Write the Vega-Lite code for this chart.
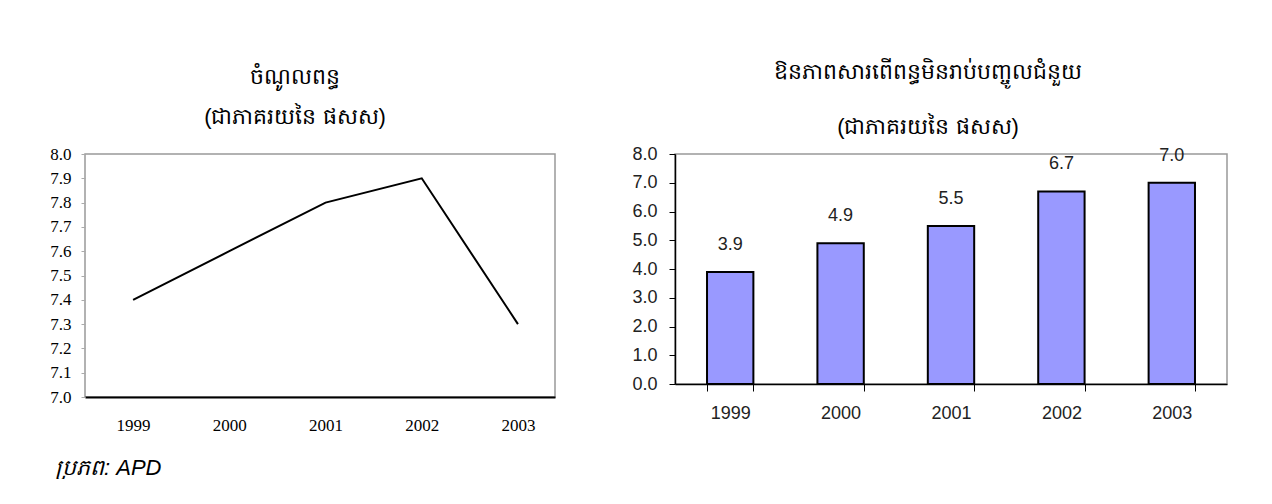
{
  "$schema": "https://vega.github.io/schema/vega-lite/v6.json",
  "padding": {"left": 49, "top": 60, "right": 0, "bottom": 0},
  "background": "white",
  "title": {"text": "ប្រភព: APD", "orient": "bottom", "anchor": "start", "fontStyle": "italic", "fontSize": 22, "font": "Liberation Sans", "fontWeight": "normal", "offset": 24, "dx": 6, "color": "black"},
  "datasets": {
    "revenue": [
      {"year": 1999, "value": 7.4},
      {"year": 2000, "value": 7.6},
      {"year": 2001, "value": 7.8},
      {"year": 2002, "value": 7.9},
      {"year": 2003, "value": 7.3}
    ],
    "deficit": [
      {"year": "1999", "value": 3.9},
      {"year": "2000", "value": 4.9},
      {"year": "2001", "value": 5.5},
      {"year": "2002", "value": 6.7},
      {"year": "2003", "value": 7.0}
    ]
  },
  "spacing": 75,
  "hconcat": [
    {
      "width": 470,
      "height": 243,
      "title": {"text": ["ចំណូលពន្ធ", "(ជាភាគរយនៃ ផសស)"], "fontSize": 22, "lineHeight": 40, "offset": 16, "dx": -25, "anchor": "middle", "fontWeight": "normal", "color": "black"},
      "view": {"stroke": "#999999", "strokeWidth": 1.5},
      "data": {"name": "revenue"},
      "mark": {"type": "line", "color": "black", "strokeWidth": 2},
      "encoding": {
        "x": {
          "field": "year", "type": "quantitative",
          "scale": {"domain": [1998.5, 2003.385], "nice": false, "zero": false},
          "axis": {"values": [1999, 2000, 2001, 2002, 2003], "format": "d", "ticks": false, "grid": false, "domainColor": "black", "domainWidth": 2, "labelFont": "Liberation Serif", "labelFontSize": 17, "labelColor": "black", "labelPadding": 20, "labelFlush": false, "title": null}
        },
        "y": {
          "field": "value", "type": "quantitative",
          "scale": {"domain": [7, 8], "nice": false, "zero": false},
          "axis": {"values": [7.0, 7.1, 7.2, 7.3, 7.4, 7.5, 7.6, 7.7, 7.8, 7.9, 8.0], "format": ".1f", "grid": false, "domain": false, "tickSize": 4, "tickColor": "#aaaaaa", "labelFont": "Liberation Serif", "labelFontSize": 17, "labelColor": "black", "labelPadding": 10, "labelOverlap": false, "labelFlush": false, "title": null}
        }
      }
    },
    {
      "width": 552,
      "height": 230,
      "title": {"text": ["ឱនភាពសារពើពន្ធមិនរាប់បញ្ចូលជំនួយ", "(ជាភាគរយនៃ ផសស)"], "fontSize": 22, "lineHeight": 55, "offset": 6, "dx": -23, "anchor": "middle", "fontWeight": "normal", "color": "black"},
      "view": {"stroke": "#999999", "strokeWidth": 1.5},
      "data": {"name": "deficit"},
      "encoding": {
        "x": {
          "field": "year", "type": "nominal",
          "scale": {"paddingInner": 0.58, "paddingOuter": 0.29},
          "axis": {"tickBand": "extent", "tickSize": 7, "tickColor": "black", "domainColor": "black", "domainWidth": 1.5, "labelAngle": 0, "labelFont": "Liberation Sans", "labelFontSize": 18, "labelColor": "#222222", "labelPadding": 13, "title": null, "grid": false}
        },
        "y": {
          "field": "value", "type": "quantitative",
          "scale": {"domain": [0, 8], "nice": false},
          "axis": {"values": [0, 1, 2, 3, 4, 5, 6, 7, 8], "format": ".1f", "tickSize": 6, "tickColor": "black", "domainColor": "black", "domainWidth": 1.5, "grid": false, "labelFont": "Liberation Sans", "labelFontSize": 18, "labelColor": "#222222", "labelPadding": 12, "labelOverlap": false, "title": null}
        }
      },
      "layer": [
        {"mark": {"type": "bar", "fill": "#9999FF", "stroke": "black", "strokeWidth": 2}},
        {"mark": {"type": "text", "baseline": "middle", "dy": -27, "font": "Liberation Sans", "fontSize": 18, "color": "#222222"},
         "encoding": {"text": {"field": "value", "type": "quantitative", "format": ".1f"}}}
      ]
    }
  ]
}
